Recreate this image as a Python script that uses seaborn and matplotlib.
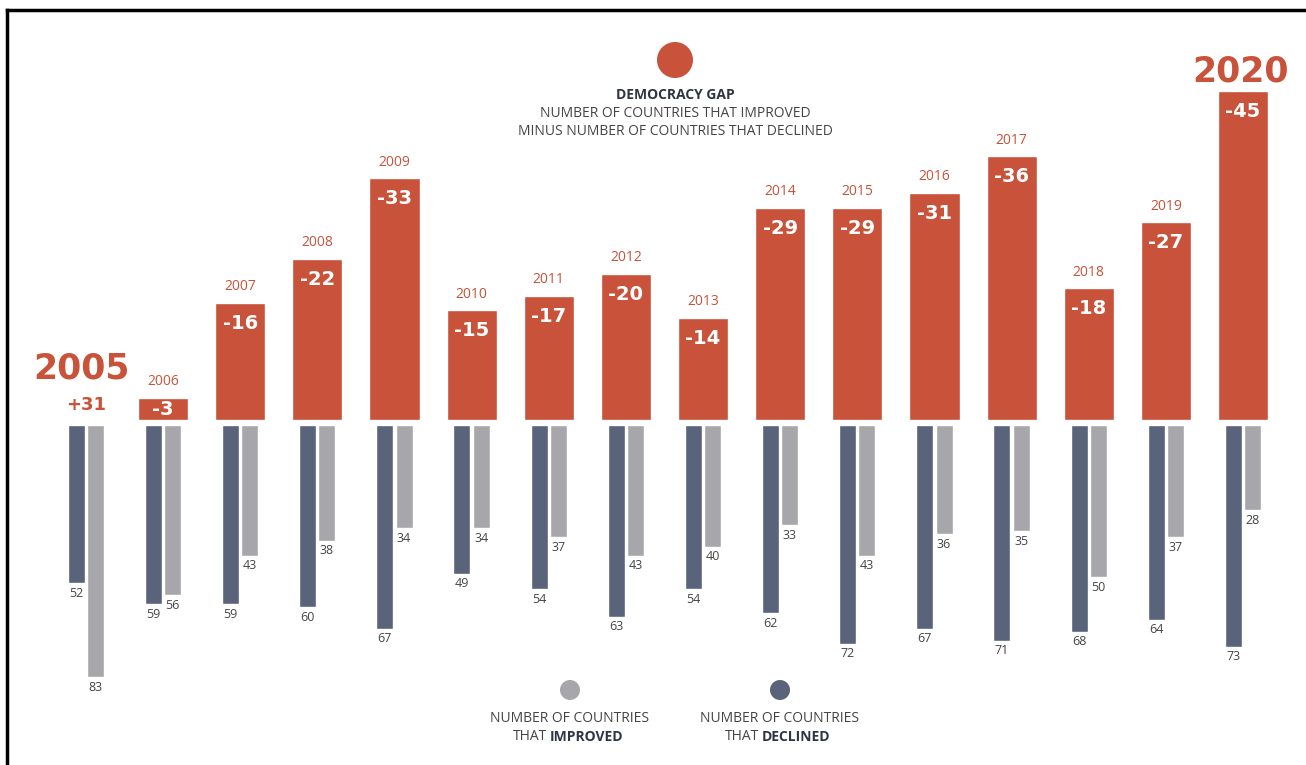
import matplotlib
matplotlib.use("Agg")
import matplotlib.pyplot as plt
from matplotlib.lines import Line2D
from matplotlib.patches import Circle
import pandas as pd
import seaborn as sns

# ---- data -------------------------------------------------------------
years = [2005, 2006, 2007, 2008, 2009, 2010, 2011, 2012,
         2013, 2014, 2015, 2016, 2017, 2018, 2019, 2020]
gap = [31, -3, -16, -22, -33, -15, -17, -20,
       -14, -29, -29, -31, -36, -18, -27, -45]
declined = [52, 59, 59, 60, 67, 49, 54, 63,
            54, 62, 72, 67, 71, 68, 64, 73]
improved = [83, 56, 43, 38, 34, 34, 37, 43,
            40, 33, 43, 36, 35, 50, 37, 28]

# ---- style ------------------------------------------------------------
ORANGE = "#C8523A"
DARK = "#59647A"
GREY = "#A7A7AB"
TEXT_DARK = "#2F3542"
TEXT_MID = "#444444"

sns.set_theme(style="white")
plt.rcParams["font.family"] = ["Open Sans", "DejaVu Sans"]

W, H = 1306, 765
fig = plt.figure(figsize=(W / 100, H / 100), dpi=100)
fig.patch.set_facecolor("white")

# horizontal placement of the year slots
X0, STEP = 85.9, 77.14
xlim = (-X0 / STEP, (W - X0) / STEP)

# upper panel: democracy gap (magnitude of net decline)
UP_BASE, UP_SCALE = 420, 7.32
ax_top = fig.add_axes([0, (H - UP_BASE) / H, 1, UP_BASE / H])
# lower panel: counts, growing downward
LO_TOP, LO_SCALE = 425, 3.04
ax_bot = fig.add_axes([0, 0, 1, (H - LO_TOP) / H])

labels = [str(y) for y in years]
gap_df = pd.DataFrame({"year": labels,
                       "size": [max(-g, 0) for g in gap]})
sns.barplot(data=gap_df, x="year", y="size", order=labels, color=ORANGE,
            width=0.65, saturation=1, errorbar=None, ax=ax_top)
ax_top.set_xlim(*xlim)
ax_top.set_ylim(0, UP_BASE / UP_SCALE)

counts = pd.DataFrame({
    "year": labels * 2,
    "series": ["declined"] * len(years) + ["improved"] * len(years),
    "count": declined + improved,
})
sns.barplot(data=counts, x="year", y="count", hue="series", order=labels,
            hue_order=["declined", "improved"],
            palette={"declined": DARK, "improved": GREY},
            width=0.5, gap=0.12, saturation=1, errorbar=None,
            legend=False, ax=ax_bot)
ax_bot.set_xlim(*xlim)
ax_bot.set_ylim((H - LO_TOP) / LO_SCALE, 0)

for ax in (ax_top, ax_bot):
    ax.axis("off")

# ---- labels on the gap bars ------------------------------------------
for i, (yr, g) in enumerate(zip(years, gap)):
    if g >= 0:
        ax_top.text(i - 0.06, 7.0, str(yr), ha="center", va="center",
                    color=ORANGE, fontsize=25, fontweight="bold",
                    family="DejaVu Sans")
        ax_top.text(i, 2.1, f"{g:+d}", ha="center", va="center",
                    color=ORANGE, fontsize=13, fontweight="bold",
                    family="DejaVu Sans")
        continue
    h = -g
    if yr == years[-1]:
        ax_top.text(i - 0.03, h + 2.6, str(yr), ha="center", va="center",
                    color=ORANGE, fontsize=25, fontweight="bold",
                    family="DejaVu Sans")
    else:
        ax_top.text(i, h + 2.2, str(yr), ha="center", va="center",
                    color=ORANGE, fontsize=10)
    ypos = h - 2.8 if h > 6 else h / 2
    ax_top.text(i, ypos, f"{g:d}", ha="center", va="center",
                color="white", fontsize=14, fontweight="bold",
                family="DejaVu Sans")

# ---- labels under the count bars -------------------------------------
for cont in ax_bot.containers:
    for bar in cont:
        v = bar.get_height()
        ax_bot.text(bar.get_x() + bar.get_width() / 2, v + 3.3,
                    f"{v:.0f}", ha="center", va="center",
                    color=TEXT_MID, fontsize=9)

# ---- key and frame (pixel coordinates) --------------------------------
ov = fig.add_axes([0, 0, 1, 1], zorder=5)
ov.set_xlim(0, W)
ov.set_ylim(H, 0)
ov.axis("off")
ov.patch.set_alpha(0)

ov.add_patch(Circle((675, 60), 18, color=ORANGE, lw=0))
ov.text(675, 95, "DEMOCRACY GAP", ha="center", va="center",
        color=TEXT_DARK, fontsize=10, fontweight="bold")
ov.text(675, 113, "NUMBER OF COUNTRIES THAT IMPROVED", ha="center",
        va="center", color=TEXT_MID, fontsize=10)
ov.text(675, 131, "MINUS NUMBER OF COUNTRIES THAT DECLINED", ha="center",
        va="center", color=TEXT_MID, fontsize=10)

for cx, word, col, split in ((570, "IMPROVED", GREY, 548),
                             (780, "DECLINED", DARK, 760)):
    ov.add_patch(Circle((cx, 690), 10, color=col, lw=0))
    ov.text(cx, 718, "NUMBER OF COUNTRIES", ha="center", va="center",
            color=TEXT_MID, fontsize=10)
    ov.text(split - 1, 737, "THAT", ha="right", va="center",
            color=TEXT_MID, fontsize=10)
    ov.text(split + 2, 737, word, ha="left", va="center",
            color=TEXT_DARK, fontsize=10, fontweight="bold")

ov.add_line(Line2D([7, W], [10, 10], color="black", lw=2.5,
                   solid_capstyle="projecting"))
ov.add_line(Line2D([7, 7], [10, H], color="black", lw=2.5,
                   solid_capstyle="projecting"))

fig.savefig("out.png", dpi=100, facecolor="white")
